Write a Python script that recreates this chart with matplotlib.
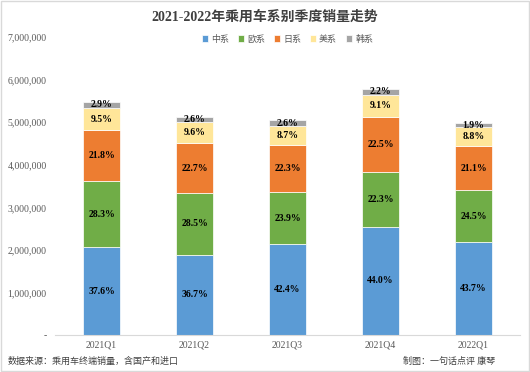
import matplotlib.pyplot as plt
from matplotlib.ticker import FuncFormatter
import numpy as np

plt.rcParams['font.family'] = ['Liberation Serif', 'Noto Sans CJK SC']

quarters = ["2021Q1", "2021Q2", "2021Q3", "2021Q4", "2022Q1"]
series = ["中系", "欧系", "日系", "美系", "韩系"]
colors = ["#5B9BD5", "#70AD47", "#ED7D31", "#FFE699", "#A5A5A5"]

# sales per series
china = [2060000, 1879000, 2141000, 2539000, 2176000]
europe = [1550000, 1459000, 1207000, 1287000, 1220000]
japan = [1195000, 1162000, 1126000, 1298000, 1051000]
usa = [520000, 492000, 439000, 525000, 438000]
korea = [159000, 133000, 131000, 127000, 95000]

pct_china = ["37.6%", "36.7%", "42.4%", "44.0%", "43.7%"]
pct_europe = ["28.3%", "28.5%", "23.9%", "22.3%", "24.5%"]
pct_japan = ["21.8%", "22.7%", "22.3%", "22.5%", "21.1%"]
pct_usa = ["9.5%", "9.6%", "8.7%", "9.1%", "8.8%"]
pct_korea = ["2.9%", "2.6%", "2.6%", "2.2%", "1.9%"]

values = [china, europe, japan, usa, korea]
labels = [pct_china, pct_europe, pct_japan, pct_usa, pct_korea]

fig = plt.figure(figsize=(5.3, 3.72), dpi=100)
ax = fig.add_axes([0.104, 0.0995, 0.877, 0.801])

x = np.arange(len(quarters))
bottom = np.zeros(len(quarters))
for name, vals, col, labs in zip(series, values, colors, labels):
    bars = ax.bar(x, vals, 0.4, bottom=bottom, color=col, label=name,
                  edgecolor="white", linewidth=0.5)
    ax.bar_label(bars, labels=labs, label_type="center", fontsize=7,
                 fontweight="bold", color="black")
    bottom += np.array(vals)

ax.set_xlim(-0.5, 4.5)
ax.set_ylim(0, 7000000)
ax.set_yticks(np.arange(0, 7000001, 1000000))
ax.yaxis.set_major_formatter(FuncFormatter(lambda v, p: "-" if v == 0 else f"{int(v):,}"))
ax.set_xticks(x)
ax.set_xticklabels(quarters)
ax.tick_params(axis="both", length=0, labelsize=7, colors="#595959")
ax.tick_params(axis="x", pad=4)
ax.tick_params(axis="y", pad=6)
for s in ["top", "right", "left"]:
    ax.spines[s].set_visible(False)
ax.spines["bottom"].set_color("#D9D9D9")

ax.legend(loc="upper center", bbox_to_anchor=(0.5, 1.035), ncol=5, frameon=False,
          fontsize=6.5, handlelength=0.7, handleheight=0.7, columnspacing=1.0,
          handletextpad=0.3, labelcolor="#595959")

fig.text(0.5, 0.955, "2021-2022年乘用车系别季度销量走势", ha="center", va="center",
         fontsize=10, fontweight="bold", color="#404040")
fig.text(0.015, 0.028, "数据来源：乘用车终端销量，含国产和进口", ha="left", va="center",
         fontsize=6.5, color="#404040")
fig.text(0.935, 0.028, "制图：一句话点评 康琴", ha="right", va="center",
         fontsize=6.5, color="#404040")

fig.patches.append(plt.Rectangle((0.002, 0.002), 0.996, 0.996, transform=fig.transFigure,
                                 fill=False, edgecolor="#D9D9D9", linewidth=1))

fig.savefig("out.png", dpi=100)
